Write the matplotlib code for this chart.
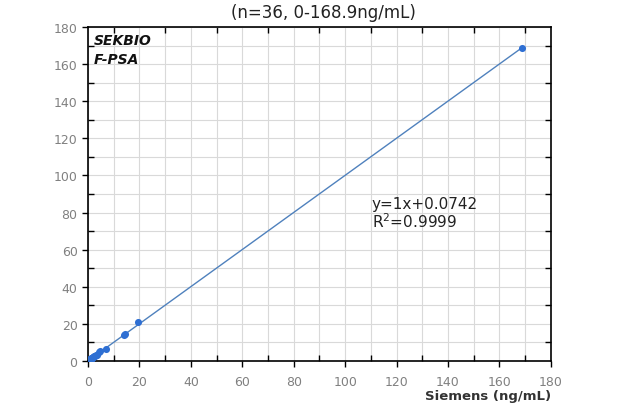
import numpy as np
import matplotlib
matplotlib.use("Agg")
import matplotlib.pyplot as plt
from matplotlib.ticker import MultipleLocator

plt.rcParams["font.family"] = ["DejaVu Sans"]

# ── Données ────────────────────────────────────────────────────────────────────
siemens = [0.02, 0.05, 0.08, 0.10, 0.12, 0.15, 0.20, 0.25, 0.30, 0.35,
           0.40, 0.45, 0.50, 0.60, 0.70, 0.80, 0.90, 1.00, 1.10, 1.20,
           1.30, 1.50, 1.70, 1.90, 2.10, 2.40, 2.70, 3.00, 3.30, 4.20,
           4.50, 6.80, 13.8, 14.2, 19.6, 168.9]
sekbio  = [0.05, 0.10, 0.15, 0.20, 0.18, 0.25, 0.30, 0.30, 0.40, 0.45,
           0.50, 0.55, 0.60, 0.70, 0.80, 0.90, 1.00, 1.10, 1.20, 1.30,
           1.40, 1.60, 1.80, 2.00, 2.20, 2.50, 2.80, 3.00, 3.40, 4.80,
           5.20, 6.40, 14.0, 14.3, 21.2, 168.9]
slope, intercept = 1.0, 0.0742
r2 = 0.9999

BLUE_LINE = "#4f81bd"
BLUE_DOT  = "#2e6fd3"
GRID      = "#d9d9d9"
TICK      = "#808080"

# ── Figure ─────────────────────────────────────────────────────────────────────
fig = plt.figure(figsize=(6.31, 4.06), dpi=100, facecolor="white")
ax = fig.add_axes([0.1395, 0.1084, 0.7335, 0.8226])

xf = np.array([0, max(siemens)])
ax.plot(xf, slope * xf + intercept, color=BLUE_LINE, lw=1.0, zorder=2)
ax.scatter(siemens, sekbio, s=26, color=BLUE_DOT, zorder=3, linewidths=0)

ax.set_xlim(0, 180)
ax.set_ylim(0, 180)
ax.xaxis.set_major_locator(MultipleLocator(20))
ax.yaxis.set_major_locator(MultipleLocator(20))
ax.xaxis.set_minor_locator(MultipleLocator(10))
ax.yaxis.set_minor_locator(MultipleLocator(10))
ax.grid(which="both", color=GRID, lw=0.8, zorder=0)
ax.set_axisbelow(True)

ax.tick_params(which="major", direction="out", length=4, width=1,
               colors="black", labelcolor=TICK, labelsize=9)
ax.tick_params(axis="x", which="major", pad=6)
ax.tick_params(which="minor", direction="in", length=4, width=1,
               top=True, right=True, colors="black")
for sp in ax.spines.values():
    sp.set_edgecolor("black")
    sp.set_linewidth(1.2)

ax.text(0.012, 0.982, "SEKBIO\nF-PSA", transform=ax.transAxes,
        ha="left", va="top", fontsize=10, fontweight="bold",
        fontstyle="italic", color="#111", linespacing=1.45)

ax.text(0.613, 0.444, f"y={slope:g}x+{intercept}\nR$^2$={r2}",
        transform=ax.transAxes, ha="left", va="center",
        fontsize=11, color="#222", linespacing=1.0)

ax.set_xlabel("Siemens (ng/mL)", fontsize=9.5, fontweight="bold",
              color="#333", loc="right", labelpad=1)

fig.text(0.512, 0.968, "(n=36, 0-168.9ng/mL)", ha="center", va="center",
         fontsize=12, color="#222")

fig.savefig("out.png", dpi=100, facecolor="white")
